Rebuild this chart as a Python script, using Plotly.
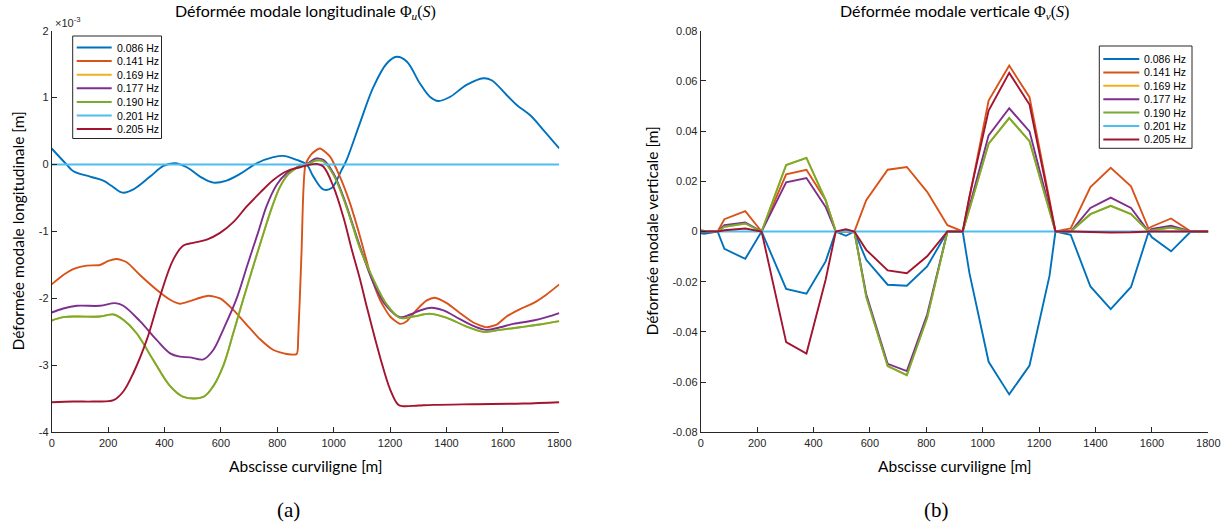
import plotly.graph_objects as go

# ---------------- data ----------------
labels = ["0.086 Hz", "0.141 Hz", "0.169 Hz", "0.177 Hz", "0.190 Hz", "0.201 Hz", "0.205 Hz"]
colors = ["#0072BD", "#D95319", "#EDB120", "#7E2F8E", "#77AC30", "#4DBEEE", "#A2142F"]

# (a) longitudinal mode shapes, values in units of 1e-3 m
s_u_086 = [0, 53, 77, 136, 183, 213, 252, 290, 349, 396, 437, 479, 526, 573, 620, 668, 727, 786, 821, 869,
           904, 928, 963, 993, 1028, 1046, 1093, 1141, 1188, 1223, 1259, 1306, 1342, 1371, 1412, 1471, 1531,
           1560, 1613, 1649, 1696, 1743, 1800]
phi_u_086 = [0.24, 0.0, -0.10, -0.18, -0.24, -0.32, -0.42, -0.37, -0.18, -0.02, 0.02, -0.04, -0.18, -0.27,
             -0.24, -0.14, 0.02, 0.11, 0.13, 0.07, 0.0, -0.18, -0.37, -0.35, -0.08, 0.07, 0.62, 1.16, 1.51,
             1.61, 1.54, 1.21, 1.01, 0.95, 1.01, 1.19, 1.29, 1.26, 1.04, 0.89, 0.74, 0.52, 0.24]

s_u_141 = [0, 41, 83, 124, 171, 201, 230, 266, 313, 372, 420, 455, 490, 526, 556, 597, 644, 691, 739, 786,
           833, 869, 874, 886, 900, 922, 951, 987, 1022, 1058, 1093, 1129, 1164, 1200, 1235, 1259, 1294,
           1330, 1359, 1401, 1448, 1495, 1542, 1578, 1613, 1661, 1708, 1755, 1800]
phi_u_141 = [-1.79, -1.65, -1.55, -1.51, -1.50, -1.44, -1.41, -1.46, -1.65, -1.87, -2.02, -2.08, -2.04,
             -1.99, -1.96, -2.00, -2.17, -2.39, -2.61, -2.77, -2.83, -2.83, -2.60, -1.30, 0.0, 0.16, 0.24,
             0.12, -0.18, -0.58, -1.07, -1.62, -2.02, -2.27, -2.38, -2.34, -2.17, -2.03, -1.99, -2.07,
             -2.22, -2.36, -2.43, -2.39, -2.27, -2.16, -2.07, -1.94, -1.79]

s_u_177 = [0, 41, 89, 171, 225, 254, 313, 372, 420, 455, 490, 538, 573, 610, 656, 694, 733, 762, 798, 833,
           869, 904, 937, 963, 999, 1034, 1070, 1093, 1141, 1188, 1235, 1271, 1306, 1347, 1389, 1448, 1495,
           1542, 1590, 1637, 1708, 1755, 1800]
phi_u_177 = [-2.21, -2.15, -2.11, -2.11, -2.07, -2.11, -2.34, -2.62, -2.82, -2.87, -2.88, -2.91, -2.77,
             -2.45, -2.00, -1.50, -1.00, -0.62, -0.30, -0.13, -0.04, 0.01, 0.09, 0.07, -0.13, -0.48, -0.93,
             -1.22, -1.77, -2.12, -2.28, -2.24, -2.18, -2.14, -2.18, -2.31, -2.41, -2.47, -2.43, -2.38,
             -2.33, -2.28, -2.22]

s_u_190 = [0, 41, 89, 171, 219, 254, 301, 360, 420, 467, 538, 573, 609, 645, 680, 716, 753, 780, 810, 840,
           869, 904, 937, 963, 999, 1034, 1070, 1093, 1141, 1188, 1235, 1283, 1342, 1401, 1471, 1531, 1590,
           1661, 1731, 1800]
phi_u_190 = [-2.33, -2.28, -2.27, -2.27, -2.24, -2.32, -2.52, -2.92, -3.31, -3.47, -3.47, -3.31, -3.00,
             -2.50, -2.00, -1.50, -1.00, -0.65, -0.33, -0.14, -0.05, 0.0, 0.06, 0.05, -0.15, -0.50, -0.95,
             -1.25, -1.72, -2.09, -2.29, -2.27, -2.23, -2.29, -2.42, -2.50, -2.47, -2.43, -2.39, -2.34]

s_u_169 = [0, 41, 89, 171, 219, 254, 301, 360, 420, 467, 538, 573, 609, 645, 680, 716, 753, 780, 810, 840,
           869, 904, 937, 963, 999, 1034, 1070, 1093, 1141, 1188, 1235, 1283, 1342, 1401, 1471, 1531, 1590,
           1661, 1731, 1800]
phi_u_169 = [-2.33, -2.28, -2.27, -2.27, -2.24, -2.32, -2.52, -2.92, -3.31, -3.47, -3.47, -3.31, -3.00,
             -2.50, -2.00, -1.50, -1.00, -0.65, -0.33, -0.14, -0.05, 0.0, 0.06, 0.05, -0.15, -0.50, -0.95,
             -1.25, -1.72, -2.09, -2.29, -2.27, -2.23, -2.29, -2.42, -2.50, -2.47, -2.43, -2.39, -2.34]

s_u_201 = [0, 1800]
phi_u_201 = [0.0, 0.0]

s_u_205 = [0, 77, 148, 219, 254, 290, 337, 384, 431, 467, 502, 550, 597, 644, 691, 739, 786, 833, 880, 916,
           940, 963, 999, 1034, 1064, 1093, 1117, 1164, 1200, 1229, 1247, 1300, 1353, 1495, 1672, 1800]
phi_u_205 = [-3.55, -3.54, -3.54, -3.52, -3.39, -3.11, -2.62, -1.97, -1.42, -1.21, -1.17, -1.12, -1.02,
             -0.86, -0.63, -0.42, -0.23, -0.10, -0.04, 0.0, 0.01, -0.03, -0.33, -0.78, -1.27, -1.71, -2.12,
             -2.87, -3.36, -3.59, -3.61, -3.60, -3.59, -3.58, -3.57, -3.55]

# (b) vertical mode shapes, values in m
s_v = [0, 12, 60, 84, 158, 216, 303, 375, 443, 479, 515, 545, 587, 663, 731, 803, 875, 929, 953, 1021,
       1094, 1166, 1237, 1258, 1312, 1382, 1454, 1526, 1588, 1600, 1668, 1738, 1800]
phi_v_086 = [-0.0007, -0.0009, 0, -0.0069, -0.0109, 0, -0.0229, -0.0248, -0.0119, 0, -0.0017, 0, -0.0113,
             -0.0212, -0.0216, -0.0139, 0, 0, -0.0166, -0.0519, -0.0649, -0.0534, -0.0176, 0, -0.0013,
             -0.0219, -0.0309, -0.0221, -0.0003, -0.0023, -0.0079, 0, 0]
phi_v_141 = [0.0005, 0.0003, 0, 0.0049, 0.0081, 0, 0.0228, 0.0246, 0.0125, 0, 0, 0, 0.0125, 0.0246, 0.0257,
             0.0158, 0.0025, 0, 0.0135, 0.0522, 0.0661, 0.0535, 0.0125, 0, 0.0012, 0.0177, 0.0254, 0.0180,
             0.0012, 0.0020, 0.0052, 0, 0]
phi_v_169 = [0, 0, 0, 0.0019, 0.0032, 0, 0.0265, 0.0293, 0.0125, 0, 0, 0, -0.0260, -0.0536, -0.0572,
             -0.0344, 0, 0, 0.0090, 0.0350, 0.0452, 0.0360, 0.0082, 0, 0, 0.0069, 0.0102, 0.0069, 0, 0.0005,
             0.0016, 0, 0]
phi_v_177 = [0, 0, 0, 0.0025, 0.0036, 0, 0.0196, 0.0213, 0.0098, 0, 0, 0, -0.0250, -0.0527, -0.0556,
             -0.0331, 0, 0, 0.0100, 0.0383, 0.0491, 0.0399, 0.0091, 0, 0, 0.0094, 0.0135, 0.0094, 0, 0.0010,
             0.0023, 0, 0]
phi_v_190 = [0, 0, 0, 0.0019, 0.0032, 0, 0.0265, 0.0293, 0.0125, 0, 0, 0, -0.0260, -0.0536, -0.0572,
             -0.0344, 0, 0, 0.0090, 0.0350, 0.0452, 0.0360, 0.0082, 0, 0, 0.0069, 0.0102, 0.0069, 0, 0.0005,
             0.0016, 0, 0]
phi_v_201 = [0] * len(s_v)
phi_v_205 = [0, 0, 0, 0.0005, 0.0012, 0, -0.0441, -0.0486, -0.0192, 0, 0.0009, 0, -0.0073, -0.0155, -0.0166,
             -0.0099, 0, 0, 0.0140, 0.0482, 0.0632, 0.0506, 0.0115, 0, 0, -0.0003, -0.0004, -0.0003, 0, 0,
             0, 0, 0]

xticks = [0, 200, 400, 600, 800, 1000, 1200, 1400, 1600, 1800]
u_ticks = [-4, -3, -2, -1, 0, 1, 2]
u_ticktext = ["-4", "-3", "-2", "-1", "0", "1", "2"]
v_ticks = [-0.08, -0.06, -0.04, -0.02, 0, 0.02, 0.04, 0.06, 0.08]
v_ticktext = ["-0.08", "-0.06", "-0.04", "-0.02", "0", "0.02", "0.04", "0.06", "0.08"]

# ---------------- figure ----------------
W, H = 1228, 528
fig = go.Figure()

u_series = [(s_u_086, phi_u_086), (s_u_141, phi_u_141), (s_u_169, phi_u_169), (s_u_177, phi_u_177),
            (s_u_190, phi_u_190), (s_u_201, phi_u_201), (s_u_205, phi_u_205)]
v_series = [phi_v_086, phi_v_141, phi_v_169, phi_v_177, phi_v_190, phi_v_201, phi_v_205]

LW = 1.9
for i, (xs, ys) in enumerate(u_series):
    fig.add_trace(go.Scatter(
        x=xs, y=ys, mode="lines", name=labels[i], showlegend=False,
        line=dict(color=colors[i], width=LW, shape="spline", smoothing=0.6 if i == 1 else 1.0),
        xaxis="x", yaxis="y"))

for i, ys in enumerate(v_series):
    fig.add_trace(go.Scatter(
        x=s_v, y=ys, mode="lines", name=labels[i], showlegend=False,
        line=dict(color=colors[i], width=LW),
        xaxis="x2", yaxis="y2"))

axis_col = "#262626"
tick_font = dict(family="Liberation Sans, Arial, sans-serif", size=11, color=axis_col)
common_axis = dict(showgrid=False, zeroline=False, showline=True, linecolor=axis_col, linewidth=1,
                   ticks="inside", ticklen=5, tickcolor=axis_col, tickwidth=1, mirror=False,
                   tickfont=tick_font, automargin=False)

yb, yt = (H - 432.3) / H, (H - 30.7) / H
fig.update_layout(
    width=W, height=H,
    margin=dict(l=0, r=0, t=0, b=0, pad=0),
    paper_bgcolor="white", plot_bgcolor="white",
    showlegend=False,
    xaxis=dict(domain=[51.7 / W, 559.3 / W], range=[0, 1800], tickvals=xticks, anchor="y", **common_axis),
    yaxis=dict(domain=[yb, yt], range=[-4, 2], tickvals=u_ticks, ticktext=u_ticktext, anchor="x",
               **common_axis),
    xaxis2=dict(domain=[700.7 / W, 1208.3 / W], range=[0, 1800], tickvals=xticks, anchor="y2",
                **common_axis),
    yaxis2=dict(domain=[yb, yt], range=[-0.08, 0.08], tickvals=v_ticks, ticktext=v_ticktext, anchor="x2",
                **common_axis),
)

# ---------------- compact legend boxes (MATLAB style) ----------------
leg_font = dict(family="Liberation Sans, Arial, sans-serif", size=10.5, color="#000000")


def px_x(p):
    return p / W


def px_y(p):
    return 1 - p / H


def add_legend(box, first_y, step, line_x0, line_x1, text_x):
    x0, y0, x1, y1 = box
    fig.add_shape(type="rect", xref="paper", yref="paper",
                  x0=px_x(x0), x1=px_x(x1), y0=px_y(y0), y1=px_y(y1),
                  line=dict(color=axis_col, width=1), fillcolor="white", layer="above")
    for k, (lab, col) in enumerate(zip(labels, colors)):
        yy = first_y + k * step
        fig.add_shape(type="line", xref="paper", yref="paper",
                      x0=px_x(line_x0), x1=px_x(line_x1), y0=px_y(yy), y1=px_y(yy),
                      line=dict(color=col, width=2), layer="above")
        fig.add_annotation(xref="paper", yref="paper", x=px_x(text_x), y=px_y(yy),
                           xanchor="left", yanchor="middle", showarrow=False, text=lab, font=leg_font)


add_legend((72.7, 36.0, 161.5, 138.5), 47.5, 13.6, 76.7, 111.7, 114.5)
add_legend((1099.3, 46.0, 1192.0, 148.3), 59.0, 13.4, 1103.3, 1139.3, 1141.5)

# ---------------- texts ----------------
title_font = dict(family="Lato, DejaVu Sans, sans-serif", size=16, color="#000000")
label_font = dict(family="Lato, DejaVu Sans, sans-serif", size=15.5, color="#000000")
serif = "font-family:'Liberation Serif', 'DejaVu Serif', serif"
ann = [
    dict(x=305.5 / W, y=1 - 12 / H,
         text="Déformée modale longitudinale <span style=\"" + serif + "\">Φ<sub><i>u</i></sub>(<i>S</i>)</span>",
         font=title_font),
    dict(x=954.5 / W, y=1 - 12 / H,
         text="Déformée modale verticale <span style=\"" + serif + "\">Φ<sub><i>v</i></sub>(<i>S</i>)</span>",
         font=title_font),
    dict(x=305.5 / W, y=1 - 466 / H, text="Abscisse curviligne [m]", font=label_font),
    dict(x=954.5 / W, y=1 - 466 / H, text="Abscisse curviligne [m]", font=label_font),
    dict(x=17 / W, y=1 - 231.5 / H, text="Déformée modale longitudinale [m]", textangle=-90, font=label_font),
    dict(x=651 / W, y=1 - 231.5 / H, text="Déformée modale verticale [m]", textangle=-90, font=label_font),
    dict(x=288 / W, y=1 - 510 / H, text="(a)",
         font=dict(family="Liberation Serif, DejaVu Serif, serif", size=21, color="#000000")),
    dict(x=936 / W, y=1 - 510 / H, text="(b)",
         font=dict(family="Liberation Serif, DejaVu Serif, serif", size=21, color="#000000")),
]
for a in ann:
    fig.add_annotation(xref="paper", yref="paper", showarrow=False, xanchor="center", yanchor="middle", **a)

fig.add_annotation(xref="paper", yref="paper", x=53 / W, y=1 - 22 / H, xanchor="left", yanchor="middle",
                   showarrow=False, text="×10<sup>-3</sup>",
                   font=dict(family="Liberation Sans, Arial, sans-serif", size=11, color=axis_col))

fig.write_html("out.html", config={"displayModeBar": False},
               post_script="document.body.style.margin='0';document.body.style.overflow='hidden';")
